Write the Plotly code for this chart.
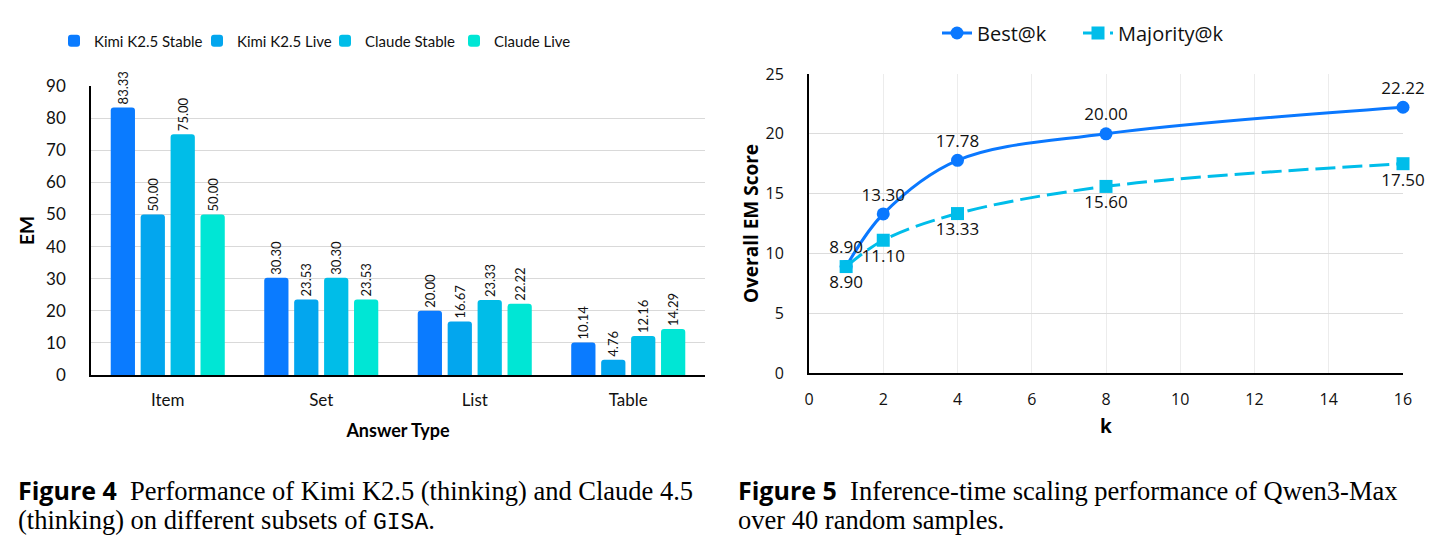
import plotly.graph_objects as go

W, H = 1449, 550

# ---------------- data ----------------
categories = ["Item", "Set", "List", "Table"]
bar_series = ["Kimi K2.5 Stable", "Kimi K2.5 Live", "Claude Stable", "Claude Live"]
kimi_stable = [83.33, 30.30, 20.00, 10.14]
kimi_live = [50.00, 23.53, 16.67, 4.76]
claude_stable = [75.00, 30.30, 23.33, 12.16]
claude_live = [50.00, 23.53, 22.22, 14.29]
bar_colors = ["#0A7BFF", "#03A6EE", "#00BDE8", "#00E6D5"]
bar_legend_widths = [98, 83, 84, 90]

k_values = [1, 2, 4, 8, 16]
best_at_k = [8.90, 13.30, 17.78, 20.00, 22.22]
majority_at_k = [8.90, 11.10, 13.33, 15.60, 17.50]

em_ticks = list(range(0, 91, 10))
score_ticks = list(range(0, 26, 5))
k_ticks = list(range(0, 17, 2))


def fx(p):
    return p / W


def fy(p):
    return 1 - p / H


LEFT_FONT = "Lato"
RIGHT_FONT = "Open Sans"

fig = go.Figure()

for name, vals, col, lw in zip(bar_series, [kimi_stable, kimi_live, claude_stable, claude_live],
                               bar_colors, bar_legend_widths):
    fig.add_trace(go.Bar(
        x=categories, y=vals, name=name,
        marker=dict(color=col, line=dict(width=0)),
        text=[f"{v:.2f}" for v in vals],
        textposition="outside", textangle=-90, constraintext="none",
        textfont=dict(family=LEFT_FONT, size=13, color="#111"),
        cliponaxis=False, legendwidth=lw,
        xaxis="x", yaxis="y", legend="legend",
    ))

fig.add_trace(go.Scatter(
    x=k_values, y=best_at_k, name="Best@k",
    mode="lines+markers+text",
    line=dict(color="#0A78FF", width=3, shape="spline"),
    marker=dict(symbol="circle", size=13, color="#0A78FF"),
    text=[f"{v:.2f}" for v in best_at_k], textposition="top center",
    textfont=dict(family=RIGHT_FONT, size=17, color="#111"),
    cliponaxis=False, legendwidth=96,
    xaxis="x2", yaxis="y2", legend="legend2",
))
fig.add_trace(go.Scatter(
    x=k_values, y=majority_at_k, name="Majority@k",
    mode="lines+markers+text",
    line=dict(color="#00BDEA", width=3, shape="spline", dash="20px,7px"),
    marker=dict(symbol="square", size=13, color="#00BDEA"),
    text=[f"{v:.2f}" for v in majority_at_k], textposition="bottom center",
    textfont=dict(family=RIGHT_FONT, size=17, color="#111"),
    cliponaxis=False, legendwidth=115,
    xaxis="x2", yaxis="y2", legend="legend2",
))

fig.update_layout(
    width=W, height=H,
    margin=dict(l=0, r=0, t=0, b=0, autoexpand=False),
    paper_bgcolor="white", plot_bgcolor="white",
    barmode="group", bargap=0.22, bargroupgap=0.19, barcornerradius=3,
    showlegend=True,
    legend=dict(orientation="h", x=fx(54), y=fy(41), xanchor="left", yanchor="middle",
                font=dict(family=LEFT_FONT, size=15, color="#111"), bgcolor="rgba(0,0,0,0)",
                itemclick=False),
    legend2=dict(orientation="h", x=fx(937), y=fy(33), xanchor="left", yanchor="middle",
                 font=dict(family=RIGHT_FONT, size=20, color="#111"), bgcolor="rgba(0,0,0,0)",
                 itemclick=False),
    xaxis=dict(domain=[fx(91), fx(705)], showline=True, linecolor="black", linewidth=1.5,
               ticks="", showgrid=False, tickfont=dict(family=LEFT_FONT, size=17, color="#111"),
               ticklabelstandoff=9, automargin=False,
               title=dict(text="<b>Answer Type</b>", font=dict(family=LEFT_FONT, size=18, color="black"), standoff=15),
               anchor="y", fixedrange=True),
    yaxis=dict(domain=[fy(375), fy(86)], range=[0, 90], tickvals=em_ticks,
               showline=True, linecolor="black", linewidth=1.5, ticks="",
               showgrid=True, gridcolor="#D9D9D9", gridwidth=1.2, zeroline=False,
               tickfont=dict(family=LEFT_FONT, size=17, color="#111"), ticklabelstandoff=20,
               automargin=False,
               title=dict(text="<b>EM</b>", font=dict(family=LEFT_FONT, size=19, color="black"), standoff=6),
               anchor="x", fixedrange=True),
    xaxis2=dict(domain=[fx(809), fx(1403)], range=[0, 16], tickvals=k_ticks,
                showline=True, linecolor="black", linewidth=2, ticks="",
                showgrid=True, gridcolor="#ECECEC", gridwidth=1, zeroline=False,
                tickfont=dict(family=RIGHT_FONT, size=16, color="#111"), ticklabelstandoff=11,
                automargin=False,
                title=dict(text="<b>k</b>", font=dict(family=RIGHT_FONT, size=19, color="black"), standoff=10),
                anchor="y2", fixedrange=True),
    yaxis2=dict(domain=[fy(373), fy(74)], range=[0, 25], tickvals=score_ticks,
                showline=True, linecolor="black", linewidth=2, ticks="",
                showgrid=True, gridcolor="#DCDCDC", gridwidth=1.2, zeroline=False,
                tickfont=dict(family=RIGHT_FONT, size=16, color="#111"), ticklabelstandoff=20,
                automargin=False,
                title=dict(text="<b>Overall EM Score</b>", font=dict(family=RIGHT_FONT, size=19, color="black"), standoff=2),
                anchor="x2", fixedrange=True),
)

SANS = "Open Sans"
SERIF = "Liberation Serif"
MONO = "Liberation Mono"
cap_size = 26.5
captions = [
    (16, 490, f"<span style='font-family:{SANS};font-size:25px'><b>Figure 4</b></span>  Performance of Kimi K2.5 (thinking) and Claude 4.5"),
    (16, 520, f"(thinking) on different subsets of <span style='font-family:{MONO};font-size:23px'>GISA</span>."),
    (736, 490, f"<span style='font-family:{SANS};font-size:25px'><b>Figure 5</b></span>  Inference-time scaling performance of Qwen3-Max"),
    (736, 520, "over 40 random samples."),
]
for x, y, t in captions:
    fig.add_annotation(x=fx(x), y=fy(y), xref="paper", yref="paper", xanchor="left", yanchor="middle",
                       text=t, showarrow=False, align="left",
                       font=dict(family=SERIF, size=cap_size, color="black"))

fig.write_html("out.html")
